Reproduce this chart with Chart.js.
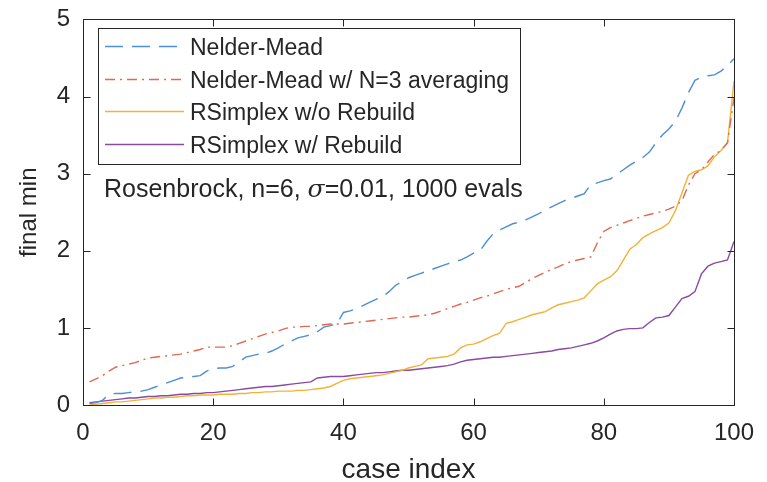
<!DOCTYPE html>
<html>
<head>
<meta charset="utf-8">
<script src="https://cdn.jsdelivr.net/npm/chart.js@4.4.1/dist/chart.umd.min.js"></script>
<style>
  html, body { margin: 0; padding: 0; background: #fff; }
  #wrap { width: 767px; height: 482px; }
</style>
</head>
<body>
<div id="wrap"><canvas id="myChart" width="767" height="482"></canvas></div>
<script>
// data, case index 1..100
const caseIdx = Array.from({length: 100}, (_, i) => i + 1);

const nelderMead = [
  0.02, 0.03, 0.06, 0.14, 0.15, 0.15, 0.16, 0.17, 0.18, 0.20,
  0.23, 0.26, 0.29, 0.32, 0.35, 0.36, 0.37, 0.38, 0.44, 0.47,
  0.48, 0.48, 0.50, 0.56, 0.62, 0.64, 0.66, 0.67, 0.70, 0.74,
  0.79, 0.83, 0.87, 0.89, 0.91, 0.95, 1.01, 1.03, 1.05, 1.20,
  1.22, 1.25, 1.29, 1.33, 1.37, 1.40, 1.47, 1.55, 1.60, 1.65,
  1.68, 1.71, 1.74, 1.77, 1.80, 1.83, 1.86, 1.88, 1.92, 1.97,
  2.00, 2.12, 2.22, 2.27, 2.31, 2.35, 2.37, 2.40, 2.44, 2.48,
  2.53, 2.57, 2.61, 2.65, 2.68, 2.71, 2.74, 2.86, 2.88, 2.91,
  2.93, 2.99, 3.05, 3.11, 3.16, 3.21, 3.28, 3.40, 3.50, 3.58,
  3.68, 3.85, 4.05, 4.21, 4.25, 4.27, 4.28, 4.33, 4.40, 4.49
];

const nelderMeadAvg = [
  0.30, 0.34, 0.38, 0.44, 0.49, 0.51, 0.53, 0.55, 0.58, 0.61,
  0.62, 0.63, 0.64, 0.65, 0.66, 0.68, 0.70, 0.72, 0.75, 0.75,
  0.75, 0.75, 0.77, 0.80, 0.83, 0.86, 0.89, 0.92, 0.94, 0.96,
  0.99, 1.01, 1.01, 1.02, 1.02, 1.03, 1.04, 1.05, 1.05, 1.05,
  1.06, 1.07, 1.08, 1.09, 1.10, 1.11, 1.12, 1.13, 1.14, 1.14,
  1.15, 1.16, 1.17, 1.19, 1.22, 1.25, 1.28, 1.31, 1.33, 1.36,
  1.39, 1.41, 1.44, 1.47, 1.50, 1.52, 1.54, 1.59, 1.64, 1.68,
  1.72, 1.76, 1.79, 1.83, 1.86, 1.88, 1.90, 1.92, 2.10, 2.25,
  2.30, 2.33, 2.36, 2.39, 2.42, 2.45, 2.47, 2.49, 2.51, 2.54,
  2.58, 2.65, 2.85, 3.00, 3.05, 3.15, 3.25, 3.30, 3.40, 3.98
];

const rsNoRebuild = [
  0.00, 0.01, 0.02, 0.03, 0.04, 0.04, 0.05, 0.06, 0.07, 0.08,
  0.09, 0.09, 0.10, 0.10, 0.11, 0.12, 0.12, 0.13, 0.13, 0.13,
  0.14, 0.14, 0.14, 0.15, 0.15, 0.16, 0.16, 0.17, 0.17, 0.18,
  0.18, 0.18, 0.19, 0.19, 0.20, 0.21, 0.22, 0.24, 0.28, 0.32,
  0.34, 0.35, 0.36, 0.37, 0.38, 0.39, 0.41, 0.43, 0.45, 0.48,
  0.50, 0.52, 0.60, 0.61, 0.62, 0.63, 0.66, 0.74, 0.78, 0.79,
  0.82, 0.86, 0.90, 0.93, 1.06, 1.08, 1.11, 1.14, 1.17, 1.19,
  1.21, 1.26, 1.30, 1.32, 1.34, 1.36, 1.39, 1.48, 1.57, 1.62,
  1.66, 1.74, 1.88, 2.02, 2.08, 2.17, 2.22, 2.26, 2.30, 2.36,
  2.52, 2.75, 2.98, 3.03, 3.05, 3.10, 3.22, 3.30, 3.40, 4.20
];

const rsRebuild = [
  0.03, 0.04, 0.05, 0.06, 0.07, 0.08, 0.09, 0.09, 0.10, 0.11,
  0.11, 0.12, 0.12, 0.13, 0.14, 0.14, 0.15, 0.15, 0.16, 0.16,
  0.17, 0.18, 0.19, 0.20, 0.21, 0.22, 0.23, 0.24, 0.24, 0.25,
  0.26, 0.27, 0.28, 0.29, 0.30, 0.35, 0.36, 0.37, 0.37, 0.37,
  0.38, 0.39, 0.40, 0.41, 0.42, 0.42, 0.43, 0.44, 0.45, 0.45,
  0.46, 0.47, 0.48, 0.49, 0.50, 0.51, 0.53, 0.56, 0.58, 0.59,
  0.60, 0.61, 0.62, 0.62, 0.63, 0.64, 0.65, 0.66, 0.67, 0.68,
  0.69, 0.70, 0.72, 0.73, 0.74, 0.76, 0.78, 0.80, 0.83, 0.87,
  0.92, 0.96, 0.98, 0.99, 0.99, 1.00, 1.07, 1.13, 1.14, 1.16,
  1.27, 1.38, 1.41, 1.47, 1.70, 1.80, 1.84, 1.86, 1.88, 2.12
];

const seriesNames = [
  'Nelder-Mead',
  'Nelder-Mead w/ N=3 averaging',
  'RSimplex w/o Rebuild',
  'RSimplex w/ Rebuild'
];
const xTicks = [0, 20, 40, 60, 80, 100];
const yTicks = [0, 1, 2, 3, 4, 5];

const FONT = '"Liberation Sans", Arial, Helvetica, sans-serif';
const INK = '#262626';

function pts(vals) {
  return vals.map((v, i) => ({x: caseIdx[i], y: v}));
}

// box round the axes, ticks pointing inwards on all four sides
const boxPlugin = {
  id: 'box',
  afterDatasetsDraw(chart) {
    const {ctx, chartArea: a, scales} = chart;
    ctx.save();
    ctx.strokeStyle = INK;
    ctx.lineWidth = 1;
    const L = Math.round(a.left) + 0.5, R = Math.round(a.right) + 0.5;
    const T = Math.round(a.top) + 0.5, B = Math.round(a.bottom) + 0.5;
    ctx.strokeRect(L, T, R - L, B - T);
    ctx.beginPath();
    xTicks.forEach(t => {
      const px = Math.round(scales.x.getPixelForValue(t)) + 0.5;
      ctx.moveTo(px, B); ctx.lineTo(px, B - 7);
      ctx.moveTo(px, T); ctx.lineTo(px, T + 7);
    });
    yTicks.forEach(t => {
      const py = Math.round(scales.y.getPixelForValue(t)) + 0.5;
      ctx.moveTo(L, py); ctx.lineTo(L + 7, py);
      ctx.moveTo(R, py); ctx.lineTo(R - 7, py);
    });
    ctx.stroke();

    // legend box inside the axes
    const lx = 98.5, ly = 28.5, lw = 422, lh = 136;
    ctx.fillStyle = '#fff';
    ctx.fillRect(lx, ly, lw, lh);
    ctx.strokeStyle = INK;
    ctx.strokeRect(lx, ly, lw, lh);
    ctx.font = '23px ' + FONT;
    ctx.textBaseline = 'alphabetic';
    chart.data.datasets.forEach((ds, i) => {
      const y = Math.round(46 + i * 32.6) + 0.5;
      ctx.save();
      ctx.strokeStyle = ds.borderColor;
      ctx.lineWidth = ds.borderWidth;
      ctx.setLineDash(ds.borderDash || []);
      ctx.beginPath();
      ctx.moveTo(105, y); ctx.lineTo(184, y);
      ctx.stroke();
      ctx.restore();
      ctx.fillStyle = INK;
      ctx.fillText(ds.label, 190, Math.round(55 + i * 32.6));
    });

    // annotation
    ctx.font = '25px ' + FONT;
    let x = 104;
    const by = 197;
    const p1 = 'Rosenbrock, n=6, ';
    ctx.fillText(p1, x, by); x += ctx.measureText(p1).width;
    ctx.font = 'italic 25px "DejaVu Serif", "Liberation Serif", serif';
    ctx.fillText('σ', x, by); x += ctx.measureText('σ').width;
    ctx.font = '25px ' + FONT;
    ctx.fillText('=0.01, 1000 evals', x, by);
    ctx.restore();
  }
};

const data = {
  datasets: [
    {
      label: seriesNames[0],
      data: pts(nelderMead),
      borderColor: 'rgb(77,142,212)',
      borderWidth: 1.4,
      borderDash: [18, 9]
    },
    {
      label: seriesNames[1],
      data: pts(nelderMeadAvg),
      borderColor: 'rgb(226,104,80)',
      borderWidth: 1.4,
      borderDash: [10, 5, 2, 5]
    },
    {
      label: seriesNames[2],
      data: pts(rsNoRebuild),
      borderColor: 'rgb(242,178,56)',
      borderWidth: 1.4
    },
    {
      label: seriesNames[3],
      data: pts(rsRebuild),
      borderColor: 'rgb(138,74,160)',
      borderWidth: 1.4
    }
  ]
};

const config = {
  type: 'line',
  data,
  options: {
    responsive: false,
    animation: false,
    layout: { padding: { left: 0, right: 33, top: 16, bottom: 0 } },
    elements: { point: { radius: 0 }, line: { tension: 0 } },
    plugins: { legend: { display: false }, tooltip: { enabled: false } },
    scales: {
      x: {
        type: 'linear',
        min: 0, max: 100,
        afterBuildTicks: s => { s.ticks = xTicks.map(v => ({value: v})); },
        afterFit: s => { s.height = 77; },
        grid: { display: false },
        border: { display: false },
        ticks: { color: INK, font: { family: FONT, size: 24 }, padding: 6, maxRotation: 0 },
        title: { display: true, text: 'case index', color: INK, font: { family: FONT, size: 28, lineHeight: 1 }, padding: { top: 0, bottom: -2 } }
      },
      y: {
        min: 0, max: 5,
        afterBuildTicks: s => { s.ticks = yTicks.map(v => ({value: v})); },
        afterFit: s => { s.width = 83; },
        grid: { display: false },
        border: { display: false },
        ticks: { color: INK, font: { family: FONT, size: 24 }, padding: 5 },
        title: { display: true, text: 'final min', color: INK, font: { family: FONT, size: 24 }, padding: { top: 15, bottom: 0 } }
      }
    }
  },
  plugins: [boxPlugin]
};

const myChart = new Chart(document.getElementById('myChart'), config);
</script>
</body>
</html>
